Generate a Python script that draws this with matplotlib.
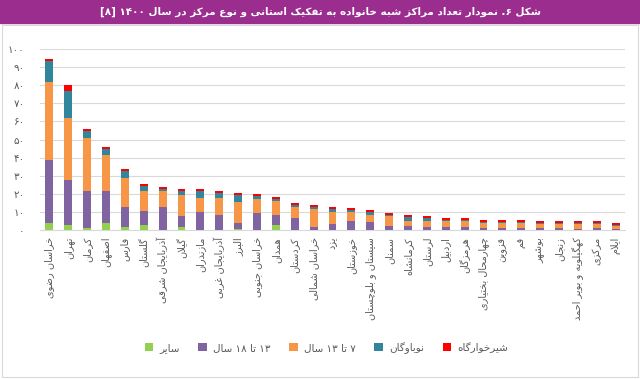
# -*- coding: utf-8 -*-
import re
import numpy as np
import matplotlib
matplotlib.use('Agg')
import matplotlib.pyplot as plt
from matplotlib.patches import Rectangle

title = 'شکل ۶. نمودار تعداد مراکز شبه خانواده به تفکیک استانی و نوع مرکز در سال ۱۴۰۰ [۸]'

provinces = [
    'خراسان رضوی', 'تهران', 'کرمان', 'اصفهان', 'فارس', 'گلستان',
    'آذربایجان شرقی', 'گیلان', 'مازندران', 'آذربایجان غربی', 'البرز',
    'خراسان جنوبی', 'همدان', 'کردستان', 'خراسان شمالی', 'یزد', 'خوزستان',
    'سیستان و بلوچستان', 'سمنان', 'کرمانشاه', 'لرستان', 'اردبیل', 'هرمزگان',
    'چهارمحال بختیاری', 'قزوین', 'قم', 'بوشهر', 'زنجان',
    'کهگیلویه و بویر احمد', 'مرکزی', 'ایلام',
]

seriesNames = ['سایر', '۱۳ تا ۱۸ سال', '۷ تا ۱۳ سال', 'نوباوگان', 'شیرخوارگاه']

other = [3.7, 2.7, 1.0, 3.7, 1.6, 2.7, 0, 1.6, 0, 0, 0.5, 0, 2.6, 0, 0, 0,
         0, 0, 0, 0, 0, 0, 0, 0, 0, 0, 0, 0, 0, 0, 0]
age13to18 = [35, 25, 20.6, 18, 11, 8, 12.6, 6, 9.7, 8.5, 3.4, 9.4, 5.7, 6.6,
             1.7, 3.2, 5, 4.2, 2, 2, 1.8, 1.8, 1.5, 1.2, 1.2, 1.2, 1.2, 1.2,
             0.8, 1.2, 0.7]
age7to13 = [43, 34, 29.3, 20, 16, 11, 9.2, 12, 8.1, 9, 11.7, 8, 7.5, 6.2,
            9.9, 6.8, 5, 4, 5.5, 3.2, 3.2, 3, 3.4, 2.6, 2.6, 2.6, 2.2, 2.2,
            2.5, 2.2, 1.7]
nobavegan = [11.7, 15, 4, 3, 4, 2.4, 1.1, 2, 4, 3, 3.7, 1.5, 1.3, 1, 1.1,
             1.7, 1, 1.8, 1, 1.8, 1.4, 0.9, 0.6, 0.7, 0.7, 0.7, 0.5, 0.5,
             0.5, 0.5, 0.5]
nursery = [1, 3.2, 1.1, 1.1, 1.1, 1.1, 0.9, 1.1, 0.9, 1.2, 1.4, 0.9, 0.9,
           1.1, 1.1, 1.2, 1.1, 1, 1, 1.3, 1.3, 1.2, 1.4, 1.2, 1.2, 1.2, 1.1,
           1.1, 1.1, 1.1, 1.1]

colors = ['#92D050', '#8064A2', '#F79646', '#31859C', '#FF0000']
yTicks = [0, 10, 20, 30, 40, 50, 60, 70, 80, 90, 100]

# contextual forms: isolated, final, initial, medial
forms = {
    'ا': ('\uFE8D', '\uFE8E', None, None),
    'آ': ('\uFE81', '\uFE82', None, None),
    'ب': ('\uFE8F', '\uFE90', '\uFE91', '\uFE92'),
    'پ': ('\uFB56', '\uFB57', '\uFB58', '\uFB59'),
    'ت': ('\uFE95', '\uFE96', '\uFE97', '\uFE98'),
    'ج': ('\uFE9D', '\uFE9E', '\uFE9F', '\uFEA0'),
    'چ': ('\uFB7A', '\uFB7B', '\uFB7C', '\uFB7D'),
    'ح': ('\uFEA1', '\uFEA2', '\uFEA3', '\uFEA4'),
    'خ': ('\uFEA5', '\uFEA6', '\uFEA7', '\uFEA8'),
    'د': ('\uFEA9', '\uFEAA', None, None),
    'ذ': ('\uFEAB', '\uFEAC', None, None),
    'ر': ('\uFEAD', '\uFEAE', None, None),
    'ز': ('\uFEAF', '\uFEB0', None, None),
    'ژ': ('\uFB8A', '\uFB8B', None, None),
    'س': ('\uFEB1', '\uFEB2', '\uFEB3', '\uFEB4'),
    'ش': ('\uFEB5', '\uFEB6', '\uFEB7', '\uFEB8'),
    'ص': ('\uFEB9', '\uFEBA', '\uFEBB', '\uFEBC'),
    'ض': ('\uFEBD', '\uFEBE', '\uFEBF', '\uFEC0'),
    'ع': ('\uFEC9', '\uFECA', '\uFECB', '\uFECC'),
    'غ': ('\uFECD', '\uFECE', '\uFECF', '\uFED0'),
    'ف': ('\uFED1', '\uFED2', '\uFED3', '\uFED4'),
    'ق': ('\uFED5', '\uFED6', '\uFED7', '\uFED8'),
    'ک': ('\uFB8E', '\uFB8F', '\uFB90', '\uFB91'),
    'گ': ('\uFB92', '\uFB93', '\uFB94', '\uFB95'),
    'ل': ('\uFEDD', '\uFEDE', '\uFEDF', '\uFEE0'),
    'م': ('\uFEE1', '\uFEE2', '\uFEE3', '\uFEE4'),
    'ن': ('\uFEE5', '\uFEE6', '\uFEE7', '\uFEE8'),
    'ه': ('\uFEE9', '\uFEEA', '\uFEEB', '\uFEEC'),
    'و': ('\uFEED', '\uFEEE', None, None),
    'ی': ('\uFBFC', '\uFBFD', '\uFBFE', '\uFBFF'),
}
lamAlef = {'ا': ('\uFEFB', '\uFEFC'), 'آ': ('\uFEF5', '\uFEF6')}
mirror = {'[': ']', ']': '[', '(': ')', ')': '('}


def joinsLeft(ch):
    return ch in forms and forms[ch][2] is not None


def persian(text):
    # shape letters, then put them in visual (left to right) order
    out = []
    i = 0
    n = len(text)
    while i < n:
        ch = text[i]
        if ch not in forms:
            out.append(mirror.get(ch, ch))
            i += 1
            continue
        prevJoins = i > 0 and joinsLeft(text[i - 1])
        if ch == 'ل' and i + 1 < n and text[i + 1] in lamAlef:
            out.append(lamAlef[text[i + 1]][1 if prevJoins else 0])
            i += 2
            continue
        nextJoins = joinsLeft(ch) and i + 1 < n and text[i + 1] in forms
        iso, fin, ini, med = forms[ch]
        if prevJoins and nextJoins:
            out.append(med)
        elif prevJoins:
            out.append(fin)
        elif nextJoins:
            out.append(ini)
        else:
            out.append(iso)
        i += 1
    visual = ''.join(reversed(out))
    return re.sub('[0-9\u06F0-\u06F9]+', lambda m: m.group(0)[::-1], visual)


def toPersianDigits(v):
    return str(v).translate(str.maketrans('0123456789', '۰۱۲۳۴۵۶۷۸۹'))


def main():
    plt.rcParams['font.family'] = ['DejaVu Sans']
    fig = plt.figure(figsize=(6.4, 3.79), dpi=100)

    # title band and frame
    fig.patches.append(Rectangle((0, 1 - 23 / 379), 1, 23 / 379,
                                 transform=fig.transFigure, color='#9B2D8F',
                                 zorder=0))
    fig.patches.append(Rectangle((0.003, 0.004), 0.994, 1 - 27 / 379,
                                 transform=fig.transFigure, fill=False,
                                 edgecolor='#d9d9d9', lw=0.8, zorder=0))
    fig.text(0.5, 1 - 11.5 / 379, persian(title), color='white',
             fontsize=7.5, fontweight='bold', ha='center', va='center')

    ax = fig.add_axes([40 / 640, 1 - 230 / 379, 585 / 640, 181 / 379])
    x = np.arange(len(provinces))
    bottom = np.zeros(len(provinces))
    bars = []
    for vals, color in zip([other, age13to18, age7to13, nobavegan, nursery], colors):
        b = ax.bar(x, vals, 0.42, bottom=bottom, color=color, zorder=3)
        bars.append(b)
        bottom += np.array(vals)

    ax.set_xlim(-0.5, len(provinces) - 0.5)
    ax.set_ylim(0, 100)
    ax.set_yticks(yTicks)
    ax.set_yticklabels([toPersianDigits(t) for t in yTicks], fontsize=7.5,
                       color='#595959')
    ax.set_xticks(x)
    ax.set_xticklabels([persian(p) for p in provinces], rotation=90,
                       fontsize=7, color='#595959')
    ax.tick_params(length=0)
    ax.tick_params(axis='y', pad=11)
    ax.tick_params(axis='x', pad=5)
    ax.grid(axis='y', color='#d9d9d9', lw=0.8, zorder=0)
    for s in ['top', 'right', 'left']:
        ax.spines[s].set_visible(False)
    ax.spines['bottom'].set_color('#d9d9d9')

    fig.legend(bars, [persian(s) for s in seriesNames], loc='center',
               bbox_to_anchor=(0.51, 1 - 348 / 379), ncol=5, frameon=False,
               fontsize=7.5, handlelength=0.8, handleheight=0.8,
               columnspacing=1.8, handletextpad=0.6, labelcolor='#595959')

    fig.savefig('out.png', dpi=100)


main()
